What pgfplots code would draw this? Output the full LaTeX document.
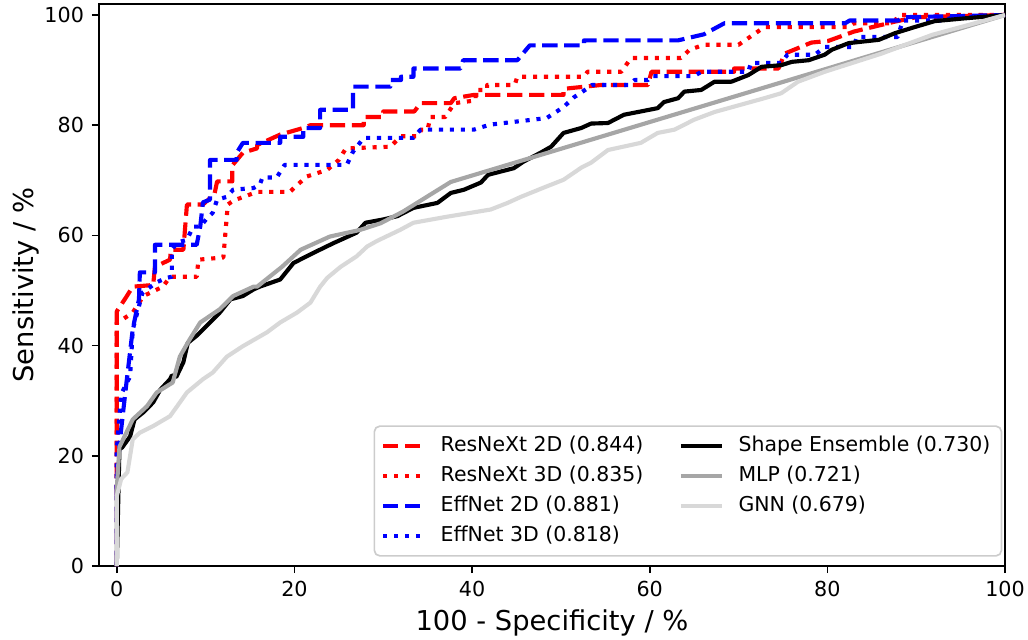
\documentclass[border=0pt]{standalone}
\usepackage{fontspec}
\setmainfont{DejaVu Sans}
\usepackage{pgfplots}
\pgfplotsset{compat=1.18}

\definecolor{mlpgray}{RGB}{166,166,166}
\definecolor{gnngray}{RGB}{216,216,216}
\definecolor{legframe}{RGB}{204,204,204}

\tikzset{
  rdash/.style={red, line width=1.86pt, line join=round, dash pattern=on 6.9pt off 3pt},
  rdot/.style={red, line width=1.86pt, line join=round, dash pattern=on 1.86pt off 3.07pt},
  bdash/.style={blue, line width=1.86pt, line join=round, dash pattern=on 6.9pt off 3pt},
  bdot/.style={blue, line width=1.86pt, line join=round, dash pattern=on 1.86pt off 3.07pt},
  shp/.style={black, line width=1.86pt, line join=round},
  mlp/.style={mlpgray, line width=1.86pt, line join=round},
  gnn/.style={gnngray, line width=1.86pt, line join=round},
}

\begin{document}
\begin{tikzpicture}[font=\fontsize{9.3}{11}\selectfont]
\begin{axis}[
    scale only axis,
    width=407.7pt, height=252.9pt,
    xmin=-2, xmax=100, ymin=0, ymax=102,
    xtick={0,20,40,60,80,100},
    ytick={0,20,40,60,80,100},
    tick pos=left,
    tick align=outside,
    major tick length=3.25pt,
    every tick/.style={black, line width=0.75pt},
    axis line style={line width=0.75pt},
    /pgf/number format/assume math mode=true,
    ticklabel style={font=\fontsize{9.3}{11}\selectfont},
    xlabel={100 - Specificity / \%},
    ylabel={Sensitivity / \%},
    xlabel style={font=\fontsize{12.3}{14}\selectfont, at={(axis description cs:0.5,-0.1151)}, anchor=base},
    ylabel style={font=\fontsize{12.3}{14}\selectfont, at={(axis description cs:-0.0726,0.5)}, anchor=base, rotate=0},
    legend columns=2,
    legend cell align=left,
    legend image code/.code={\draw[#1] (0pt,0pt) -- (18.5pt,0pt);},
    legend style={
        at={(axis description cs:0.997,0.0165)}, anchor=south east,
        draw=legframe, line width=0.75pt, rounded corners=2.5pt, fill=white,
        font=\fontsize{9.2}{11}\selectfont,
        inner xsep=3pt, inner ysep=2pt,
        nodes={inner ysep=2.3pt, text height=7pt, text depth=2pt},
        /tikz/every odd column/.append style={column sep=4.5pt},
        /tikz/every even column/.append style={column sep=14pt},
    },
]

% legend entries in row order (matplotlib fills by column)
\addlegendimage{rdash}\addlegendentry{ResNeXt 2D (0.844)}
\addlegendimage{shp}\addlegendentry{Shape Ensemble (0.730)}
\addlegendimage{rdot}\addlegendentry{ResNeXt 3D (0.835)}
\addlegendimage{mlp}\addlegendentry{MLP (0.721)}
\addlegendimage{bdash}\addlegendentry{EffNet 2D (0.881)}
\addlegendimage{gnn}\addlegendentry{GNN (0.679)}
\addlegendimage{bdot}\addlegendentry{EffNet 3D (0.818)}

% ResNeXt 2D
\addplot[rdash, forget plot] coordinates {
(0,0) (0,46.2) (1.1,48.9) (1.8,50.7) (4.1,51) (4.3,54.3) (6,55.6) (6.1,57.4)
(7.5,57.4) (7.9,65.6) (9.7,65.6) (11,67.5) (11.3,69.8) (13,69.8) (13,72.7)
(14.2,75) (15.8,75.8) (15.8,76.4) (18.4,78.3) (21,79.5) (21.8,80) (27.8,80)
(27.8,81.5) (30,81.5) (30,82.5) (33.5,82.5) (34.2,84) (37.6,84) (38,84.9)
(40.2,85.5) (50.3,85.5) (50.3,86.6) (54.5,87.3) (59.8,87.3) (60.2,89.7)
(69.5,89.7) (69.5,90.3) (74.5,90.3) (75.2,93) (78.2,95) (80.1,95.3) (83,97)
(87.6,98.8) (90,99.6) (100,100)
};

% ResNeXt 3D
\addplot[rdot, forget plot] coordinates {
(0,0) (0,44.2) (0.7,44.8) (1.8,46) (3,49) (5.2,50.7) (6,52.5) (9,52.5)
(9.2,55.6) (12,56) (12.5,65.6) (13.1,66.3) (15.8,67.9) (19.5,67.9) (20,68.7)
(21.4,70.7) (23.7,71.9) (25,73.7) (25.8,75.8) (30.8,76.1) (32,78) (33.9,78)
(34.3,79.2) (35,79.2) (35.3,81.5) (37,81.5) (38,84) (40.4,84.5) (40.4,86.4)
(41.7,86.4) (41.7,87.3) (44.8,87.3) (45.1,88.8) (52.6,88.8) (53,89.7)
(56.8,89.7) (57.9,92.2) (63.5,92.2) (64.5,93.7) (66.1,94.6) (70,94.6)
(72.9,97.8) (82.4,97.8) (83,98.5) (87.5,98.5) (88,100) (100,100)
};

% EffNet 2D
\addplot[bdash, forget plot] coordinates {
(0,0) (0,15) (0.3,22) (1,32) (1.8,43) (2.5,48.4) (2.6,53.3) (4.3,53.3)
(4.3,58.3) (9,58.3) (9.4,61.6) (9.7,66) (10.5,66.5) (10.5,73.7) (13.5,73.7)
(13.5,75) (14.2,76.8) (18.4,76.8) (18.4,77.9) (21,77.9) (21,79.5) (22.9,79.5)
(22.9,82.8) (26.6,82.8) (26.6,87) (30.8,87) (30.8,88.2) (32,88.2) (32,88.8)
(33.4,88.8) (33.4,90.3) (38.7,90.3) (39,91.8) (45.1,91.8) (46.5,94.5)
(52.6,94.5) (52.6,95.4) (63.2,95.4) (66.1,96.5) (68.4,98.5) (82,98.5)
(82.5,99) (88,99) (88.5,99.6) (100,100)
};

% EffNet 3D
\addplot[bdot, forget plot] coordinates {
(0,0) (0,21) (0.5,31.2) (1.5,34.4) (1.8,42.9) (2.9,49.6) (4.5,51.5) (5.6,52.3)
(6.2,52.5) (6.2,57.4) (6.8,58.7) (7.9,59.2) (8.6,61.6) (9.4,61.6) (10.1,63)
(10.8,64.1) (11.3,66.5) (12.4,67) (13.1,68.3) (15.4,68.6) (16.1,69.2)
(16.4,70.5) (18,70.5) (18.9,72.8) (25.9,72.8) (26.6,75.2) (27.8,77.7)
(33.4,77.7) (34.2,79.2) (40.2,79.2) (42,80.1) (48.4,81.3) (50.3,83.3)
(51.5,85.1) (53,86.7) (53.5,87.3) (57.6,87.3) (58.3,88.2) (59.8,88.2)
(60.2,88.9) (65,88.9) (65.8,89.7) (71.1,89.7) (71.4,91.3) (74.8,91.3)
(75.5,92.8) (78.6,92.8) (79.7,94.2) (83,94.2) (83.3,96) (87.9,96) (88.5,99)
(93,99) (94,99.5) (100,100)
};

% Shape Ensemble
\addplot[shp, forget plot] coordinates {
(0,0) (0.3,21.2) (0.6,21.5) (1.5,23.5) (2,26.6) (3,27.9) (4.1,29.7) (4.9,32)
(6,33.9) (6.2,34.6) (6.7,34.3) (7.5,37) (8,40.5) (9,41.8) (9.7,42.9)
(11.6,46) (12.8,48.4) (14.2,49) (15.4,50.2) (16.1,50.7) (18.4,52) (19.9,55)
(22.1,56.8) (24.4,58.6) (27,60.5) (28,62.3) (30,62.9) (31.6,63.5) (33.4,65)
(36.1,65.9) (37.6,67.7) (39.1,68.3) (41,69.6) (41.8,71) (44.7,72.2)
(45.8,73.4) (47.7,75) (48.9,76.1) (50.3,78.6) (52.3,79.5) (53.4,80.3)
(55.3,80.4) (57.1,81.9) (59,82.5) (60.9,83.1) (61.6,84.2) (63.2,84.9)
(63.9,86.1) (65.8,86.4) (67.3,87.9) (69.2,87.9) (71.1,89.1) (72.6,90.6)
(74.8,90.9) (76,91.5) (77.9,91.8) (79.7,92.8) (80.5,93.7) (82.4,94.9)
(85.8,95.5) (87.6,96.7) (89.8,97.8) (92.1,98.9) (95.5,99.4) (100,100)
};

% MLP
\addplot[mlp, forget plot] coordinates {
(0,0) (0,14) (0.3,21.6) (1.8,26.6) (3.4,29) (4.5,31.5) (6.3,33.3) (7.1,38)
(8.2,41.1) (9.4,44.2) (11.6,46.6) (13.1,49) (15.4,50.7) (15.8,50.7)
(18.6,54.3) (20.7,57.4) (24,59.8) (27.4,61) (29.7,62.2) (32.2,64.3)
(37.6,69.7) (100,100)
};

% GNN
\addplot[gnn, forget plot] coordinates {
(0,0) (0,12.7) (0.5,15.8) (1.2,17) (1.8,23) (2.6,24.2) (4.1,25.4) (6,27.2)
(6.8,29) (7.9,31.5) (9.7,33.9) (10.8,35.1) (12.4,38) (14.2,39.9) (16.9,42.4)
(18.4,44.2) (20.3,46) (21.8,47.8) (22.9,50.7) (23.7,52.3) (25.2,54.3)
(27,56.2) (28.2,58) (29.3,59) (31.9,61) (33.4,62.3) (37.2,63.4) (42.1,64.7)
(44,65.9) (45.5,67) (48.1,68.7) (50.3,70.1) (52.3,72.3) (53.4,73.2)
(55.3,75.5) (59,76.8) (60.9,78.6) (62.8,79.2) (65,81) (67.3,82.4)
(72.9,84.9) (74.8,85.8) (76.7,87.9) (79.7,89.7) (86.1,93) (91.8,96.4)
(100,100)
};

\end{axis}
\pgfresetboundingbox
\path ([shift={(-44.55pt,-32.85pt)}]current axis.south west) rectangle ([shift={(10.35pt,1.8pt)}]current axis.north east);
\end{tikzpicture}
\end{document}
